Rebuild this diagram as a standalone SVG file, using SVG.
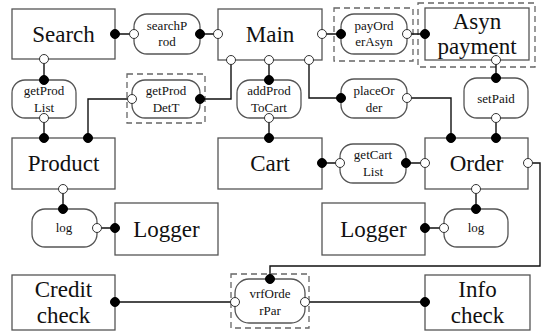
<svg xmlns="http://www.w3.org/2000/svg" width="546" height="334" viewBox="0 0 546 334">
<style>
.box{fill:#fff;stroke:#555;stroke-width:1.3}
.pill{fill:#fff;stroke:#555;stroke-width:1.3}
.dash{fill:none;stroke:#666;stroke-width:1.3;stroke-dasharray:6 4}
.big{font-size:23px;fill:#111;text-anchor:middle}
.sm{font-size:13px;fill:#111;text-anchor:middle}
.ln{fill:none;stroke:#111;stroke-width:1.4}
.f{fill:#000;stroke:#000;stroke-width:1}
.o{fill:#fff;stroke:#333;stroke-width:1}
</style>
<rect width="546" height="334" fill="#fff"/>
<g id="nodes" font-family="'Liberation Serif', 'Times New Roman', Times, 'DejaVu Serif', serif">
<g id="search"><rect class="box" x="12" y="9" width="103" height="50"/><text class="big" x="63.5" y="42">Search</text></g>
<g id="main"><rect class="box" x="218" y="9" width="104" height="51"/><text class="big" x="270" y="42">Main</text></g>
<g id="asyn"><rect class="dash" x="418" y="3" width="117" height="64"/><rect class="box" x="425" y="8" width="104" height="52"/><text class="big" x="477" y="29">Asyn</text><text class="big" x="477" y="54">payment</text></g>
<g id="product"><rect class="box" x="12" y="138" width="103" height="51"/><text class="big" x="63.5" y="171">Product</text></g>
<g id="cart"><rect class="box" x="218" y="138" width="104" height="51"/><text class="big" x="270" y="171">Cart</text></g>
<g id="order"><rect class="box" x="425" y="138" width="103" height="51"/><text class="big" x="476.5" y="171">Order</text></g>
<g id="loggerL"><rect class="box" x="115" y="203" width="103" height="52"/><text class="big" x="166.5" y="237">Logger</text></g>
<g id="loggerR"><rect class="box" x="322" y="203" width="103" height="52"/><text class="big" x="373.5" y="237">Logger</text></g>
<g id="credit"><rect class="box" x="12" y="275" width="103" height="55"/><text class="big" x="63.5" y="297">Credit</text><text class="big" x="63.5" y="323">check</text></g>
<g id="info"><rect class="box" x="425" y="275" width="105" height="55"/><text class="big" x="477.5" y="297">Info</text><text class="big" x="477.5" y="323">check</text></g>
<g id="searchProd"><rect class="pill" x="134" y="14" width="66" height="40" rx="13"/><text class="sm" x="167" y="30">searchP</text><text class="sm" x="167" y="46">rod</text></g>
<g id="payOrderAsyn"><rect class="dash" x="334" y="8" width="79" height="53"/><rect class="pill" x="341" y="14" width="66" height="40" rx="13"/><text class="sm" x="374" y="30">payOrd</text><text class="sm" x="374" y="46">erAsyn</text></g>
<g id="getProdList"><rect class="pill" x="12" y="80" width="64" height="38" rx="13"/><text class="sm" x="44" y="95">getProd</text><text class="sm" x="44" y="112">List</text></g>
<g id="getProdDetT"><rect class="dash" x="127" y="74" width="78" height="49"/><rect class="pill" x="132" y="80" width="68" height="38" rx="13"/><text class="sm" x="166" y="95">getProd</text><text class="sm" x="166" y="112">DetT</text></g>
<g id="addProdToCart"><rect class="pill" x="237" y="80" width="64" height="38" rx="13"/><text class="sm" x="269" y="95">addProd</text><text class="sm" x="269" y="112">ToCart</text></g>
<g id="placeOrder"><rect class="pill" x="341" y="79" width="66" height="39" rx="13"/><text class="sm" x="374" y="95">placeOr</text><text class="sm" x="374" y="112">der</text></g>
<g id="setPaid"><rect class="pill" x="464" y="78" width="64" height="40" rx="13"/><text class="sm" x="496" y="103">setPaid</text></g>
<g id="getCartList"><rect class="pill" x="340" y="144" width="66" height="39" rx="13"/><text class="sm" x="373" y="159">getCart</text><text class="sm" x="373" y="176">List</text></g>
<g id="logL"><rect class="pill" x="32" y="209" width="65" height="38" rx="13"/><text class="sm" x="64" y="232">log</text></g>
<g id="logR"><rect class="pill" x="444" y="209" width="64" height="38" rx="13"/><text class="sm" x="476" y="232">log</text></g>
<g id="vrfOrderPar"><rect class="dash" x="231" y="274" width="78" height="54"/><rect class="pill" x="235" y="279" width="70" height="44" rx="14"/><text class="sm" x="270" y="298">vrfOrde</text><text class="sm" x="270" y="315">rPar</text></g>
</g>
<g id="connectors">
<path class="ln" d="M115 34H134M200 34H218M322 34H341M407 34H425M496 60V78M496 118V138M44 59V80M44 118V138M231 60V99H200M132 99H88V138M269 60V80M269 118V138M309 60V98H341M407 98H451V138M322 163H340M406 163H425M63 189V209M97 228H115M476 189V209M444 228H425M528 163H540V266H270V279M115 302H235M305 302H425"/>
<g class="f">
<circle cx="115" cy="34" r="4.5"/><circle cx="200" cy="34" r="4.5"/><circle cx="341" cy="34" r="4.5"/><circle cx="425" cy="34" r="4.5"/>
<circle cx="496" cy="78" r="4.5"/><circle cx="496" cy="138" r="4.5"/><circle cx="44" cy="80" r="4.5"/><circle cx="44" cy="138" r="4.5"/>
<circle cx="200" cy="99" r="4.5"/><circle cx="88" cy="138" r="4.5"/><circle cx="269" cy="80" r="4.5"/><circle cx="269" cy="138" r="4.5"/>
<circle cx="341" cy="98" r="4.5"/><circle cx="451" cy="138" r="4.5"/><circle cx="322" cy="163" r="4.5"/><circle cx="406" cy="163" r="4.5"/>
<circle cx="63" cy="209" r="4.5"/><circle cx="115" cy="228" r="4.5"/><circle cx="476" cy="209" r="4.5"/><circle cx="425" cy="228" r="4.5"/>
<circle cx="270" cy="279" r="4.5"/><circle cx="115" cy="302" r="4.5"/><circle cx="425" cy="302" r="4.5"/>
</g>
<g class="o">
<circle cx="134" cy="34" r="4.5"/><circle cx="218" cy="34" r="4.5"/><circle cx="322" cy="34" r="4.5"/><circle cx="407" cy="34" r="4.5"/>
<circle cx="496" cy="60" r="4.5"/><circle cx="496" cy="118" r="4.5"/><circle cx="44" cy="59" r="4.5"/><circle cx="44" cy="118" r="4.5"/>
<circle cx="231" cy="60" r="4.5"/><circle cx="132" cy="99" r="4.5"/><circle cx="269" cy="60" r="4.5"/><circle cx="269" cy="118" r="4.5"/>
<circle cx="309" cy="60" r="4.5"/><circle cx="407" cy="98" r="4.5"/><circle cx="340" cy="163" r="4.5"/><circle cx="425" cy="163" r="4.5"/>
<circle cx="63" cy="189" r="4.5"/><circle cx="97" cy="228" r="4.5"/><circle cx="476" cy="189" r="4.5"/><circle cx="444" cy="228" r="4.5"/>
<circle cx="528" cy="163" r="4.5"/><circle cx="235" cy="302" r="4.5"/><circle cx="305" cy="302" r="4.5"/>
</g>
</g>
</svg>
